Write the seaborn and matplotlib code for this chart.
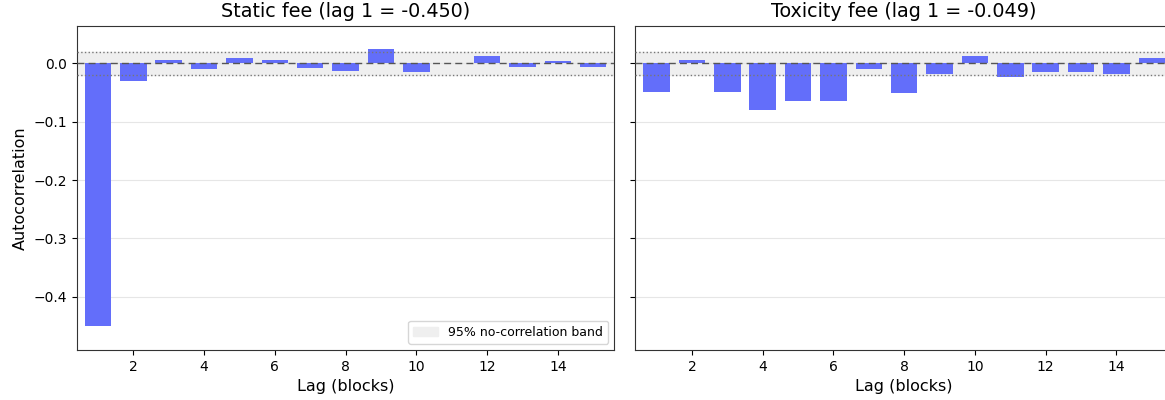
import numpy as np
import pandas as pd
import matplotlib
matplotlib.use("Agg")
import matplotlib.pyplot as plt
import seaborn as sns

# ── DATA ─────────────────────────────────────────────────────────────────────
lags = list(range(1, 16))
static_acf = [-0.450, -0.031, 0.005, -0.010, 0.0085, 0.005, -0.008, -0.013,
              0.024, -0.015, 0.0005, 0.012, -0.006, 0.0035, -0.006]
toxicity_acf = [-0.049, 0.005, -0.049, -0.080, -0.064, -0.064, -0.010, -0.051,
                -0.018, 0.012, -0.023, -0.015, -0.015, -0.018, 0.0085]
titles = ["Static fee (lag 1 = -0.450)", "Toxicity fee (lag 1 = -0.049)"]
band = 0.0196   # 1.96 / sqrt(N)

# ── PLOT ─────────────────────────────────────────────────────────────────────
sns.set_style("ticks", rc={"text.color": "black", "axes.labelcolor": "black",
                           "xtick.color": "black", "ytick.color": "black"})
plt.rcParams["font.family"] = ["DejaVu Sans"]

fig = plt.figure(figsize=(11.65, 4.0), dpi=100)
ax1 = fig.add_axes([0.0658, 0.125, 0.4616, 0.8108])
ax2 = fig.add_axes([0.5453, 0.125, 0.4616, 0.8108], sharey=ax1)

for i, (ax, vals, title) in enumerate(zip([ax1, ax2], [static_acf, toxicity_acf], titles)):
    df = pd.DataFrame({"lag": lags, "acf": vals})
    ax.axhspan(-band, band, color="#efefef", zorder=0,
               label="95% no-correlation band" if i == 0 else None)
    sns.barplot(data=df, x="lag", y="acf", native_scale=True, width=0.75,
                color="#636EFA", saturation=1, linewidth=0, edgecolor="none",
                ax=ax, zorder=2, legend=False)
    ax.axhline(0, color="#555555", linestyle=(0, (5, 3)), linewidth=1.0, zorder=3)
    ax.axhline(band, color="#777777", linestyle=":", linewidth=1.0, zorder=3)
    ax.axhline(-band, color="#777777", linestyle=":", linewidth=1.0, zorder=3)
    ax.yaxis.grid(True, color="#e6e6e6", linewidth=0.8)
    ax.set_axisbelow(True)
    ax.set_xlim(0.4, 15.6)
    ax.set_xticks([2, 4, 6, 8, 10, 12, 14])
    ax.set_xlabel("Lag (blocks)", fontsize=11.5)
    ax.set_ylabel("")
    ax.set_title(title, fontsize=13.8)
    ax.tick_params(labelsize=10)
    for s in ax.spines.values():
        s.set_visible(True)
        s.set_color("#333333")

ax1.set_ylim(-0.491, 0.0644)
ax1.set_yticks([0.0, -0.1, -0.2, -0.3, -0.4])
ax1.set_ylabel("Autocorrelation", fontsize=11.5)
ax2.tick_params(labelleft=False)
ax1.legend(loc="lower right", fontsize=9)

plt.savefig("out.png", dpi=100)
